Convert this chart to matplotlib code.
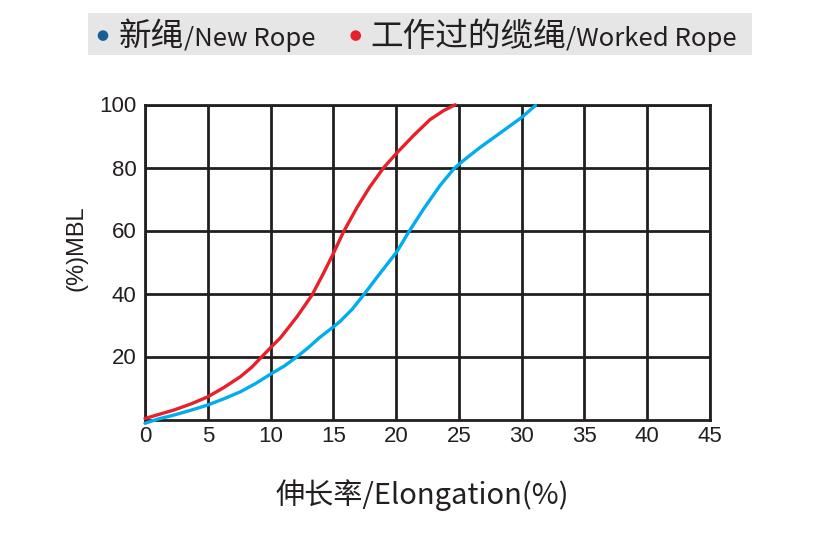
import numpy as np
import matplotlib
matplotlib.use('Agg')
import matplotlib.pyplot as plt
from matplotlib.offsetbox import (TextArea, DrawingArea, HPacker,
                                  AnchoredOffsetbox)
from matplotlib.patches import Circle, Rectangle

# values
red_x = [0, 1.0, 2.3, 3.7, 5, 6.3, 7.6, 8.5, 9.3, 10, 10.8, 12.1, 13.3,
         14.2, 15, 15.8, 16.9, 17.9, 19, 20.05, 21.4, 22.7, 23.8, 24.7]
red_y = [0.3, 1.5, 3.0, 5.0, 7.2, 10.2, 13.6, 16.6, 19.9, 22.8, 26.0, 32.6,
         39.5, 46.3, 52.7, 59.5, 67.4, 73.8, 79.9, 84.6, 90.2, 95.2, 98.1,
         99.9]
blue_x = [0, 1.0, 2.3, 3.7, 5, 6.3, 7.6, 8.8, 10, 11.1, 12.1, 13.0, 13.9,
          15, 15.5, 16.5, 17.4, 18.7, 20.05, 21.0, 22.2, 23.5, 24.6, 25.3,
          25.8, 26.7, 28.3, 30.0, 31.1]
blue_y = [-1.2, 0.1, 1.4, 3.0, 4.6, 6.6, 8.8, 11.4, 14.4, 17.0, 19.9, 22.8,
          26.0, 29.4, 31.0, 35.0, 39.5, 46.3, 53.2, 59.5, 66.9, 74.3, 79.6,
          82.0, 83.6, 86.4, 91.0, 95.9, 99.7]
x_ticks = [0, 5, 10, 15, 20, 25, 30, 35, 40, 45]
y_ticks = [20, 40, 60, 80, 100]

cjk = ['Noto Sans CJK SC', 'DejaVu Sans']
num_font = 'Liberation Sans'
RED = '#e8202a'
BLUE = '#00adef'
DOT_BLUE = '#1a5e96'
INK = '#231f20'

W, H = 817, 537
fig = plt.figure(figsize=(W / 100, H / 100), dpi=100)
ax = fig.add_axes([145 / W, 1 - 419.5 / H, 565 / W, 315 / H])

ax.set_xlim(0, 45)
ax.set_ylim(0, 100)
ax.set_xticks(x_ticks)
ax.set_yticks(y_ticks)
ax.set_xticklabels([str(t) for t in x_ticks], fontfamily=num_font,
                   fontsize=16, color=INK)
ax.set_yticklabels([str(t) for t in y_ticks], fontfamily=num_font,
                   fontsize=16, color=INK)
ax.tick_params(axis='x', length=0, pad=5)
ax.tick_params(axis='y', length=0, pad=6)
ax.grid(True, color=INK, linewidth=2.0)
for s in ax.spines.values():
    s.set_linewidth(2.0)
    s.set_color(INK)
ax.set_axisbelow(True)

ax.plot(red_x, red_y, color=RED, linewidth=2.4, clip_on=False, zorder=3,
        solid_joinstyle='round', solid_capstyle='round')
ax.plot(blue_x, blue_y, color=BLUE, linewidth=2.4, clip_on=False, zorder=3,
        solid_joinstyle='round', solid_capstyle='round')

ax.set_ylabel('(%)MBL', fontfamily=num_font, fontsize=17, color=INK)
ax.yaxis.set_label_coords(-0.122, 0.544)
ax.yaxis.label.set_verticalalignment('center')
ax.set_xlabel('伸长率/Elongation(%)', fontfamily=cjk, fontsize=21,
              color=INK)
ax.xaxis.set_label_coords(0.49, -0.24)
ax.xaxis.label.set_verticalalignment('center')

# legend: grey band with dots and text in two sizes
fig.add_artist(Rectangle((88 / W, 1 - 55 / H), 664 / W, 42 / H,
                         transform=fig.transFigure, facecolor='#e6e6e6',
                         edgecolor='none', zorder=0))


def dot(color, width, cx):
    da = DrawingArea(width, 12, 0, 0)
    da.add_artist(Circle((cx, 7.5), 3.3, color=color))
    return da


def txt(s, size):
    return TextArea(s, textprops=dict(fontfamily=cjk, fontsize=size,
                                      color=INK))


items = [dot(DOT_BLUE, 22.3, 10.8), txt('新绳', 23.5),
         txt('/New Rope', 18.5), dot(RED, 39, 28.8),
         txt('工作过的缆绳', 23.5), txt('/Worked Rope', 18.5)]
row = HPacker(children=items, align='baseline', pad=0, sep=0)
box = AnchoredOffsetbox(loc='center left', child=row, pad=0, borderpad=0,
                        frameon=False, bbox_to_anchor=(88 / W, 1 - 37 / H),
                        bbox_transform=fig.transFigure)
fig.add_artist(box)

fig.savefig('out.png', dpi=100)
